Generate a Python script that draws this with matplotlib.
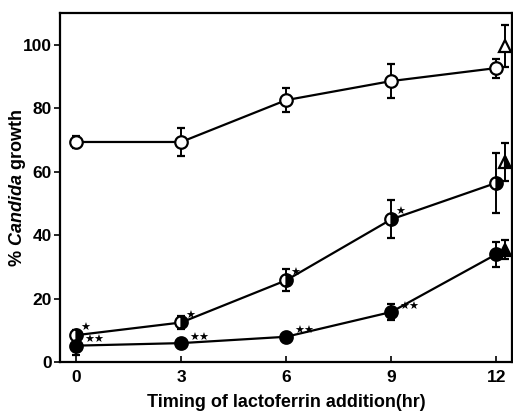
import matplotlib
matplotlib.use("Agg")
import matplotlib.pyplot as plt

plt.rcParams["font.family"] = ["Liberation Sans", "DejaVu Sans"]
plt.rcParams["font.weight"] = "bold"
plt.rcParams["mathtext.fontset"] = "custom"
plt.rcParams["mathtext.it"] = "Liberation Sans:italic:bold"

# timing of lactoferrin addition (hr)
hours = [0, 3, 6, 9, 12]

# open circles (top series)
top_vals = [69.4, 69.4, 82.6, 88.6, 92.7]
top_err = [2.0, 4.3, 3.7, 5.3, 3.0]

# half filled circles (middle series)
mid_vals = [8.5, 12.5, 25.8, 45.0, 56.5]
mid_err = [1.5, 2.0, 3.5, 6.0, 9.5]

# filled circles (bottom series)
low_vals = [5.2, 6.0, 8.0, 15.8, 34.0]
low_err = [3.0, 1.2, 0.8, 2.5, 4.0]

# controls (triangles) plotted just right of 12 hr
tri_x = 12.25
tri_vals = [99.7, 63.0, 35.4]
tri_err = [6.6, 6.0, 3.0]
tri_fill = ["none", "right", "full"]

stars_mid = ["★", "★", "★", "★"]
stars_low = ["★★", "★★", "★★", "★★"]

fig = plt.figure(figsize=(5.13, 4.12), dpi=100)
ax = fig.add_axes([0.117, 0.121, 0.881, 0.847])

kw = dict(color="black", lw=1.6, capsize=3, elinewidth=1.4, capthick=1.4,
          markersize=9, markeredgewidth=1.6, markeredgecolor="black")

ax.errorbar(hours, top_vals, yerr=top_err, marker="o", markerfacecolor="white", **kw)
ax.errorbar(hours, mid_vals, yerr=mid_err, marker="o", fillstyle="right",
            markerfacecoloralt="white", markerfacecolor="black", **kw)
ax.errorbar(hours, low_vals, yerr=low_err, marker="o", markerfacecolor="black", **kw)

for v, e, f in zip(tri_vals, tri_err, tri_fill):
    if f == "none":
        ax.errorbar([tri_x], [v], yerr=[e], marker="^", markerfacecolor="white", **kw)
    elif f == "right":
        ax.errorbar([tri_x], [v], yerr=[e], marker="^", fillstyle="right",
                    markerfacecolor="black", markerfacecoloralt="white", **kw)
    else:
        ax.errorbar([tri_x], [v], yerr=[e], marker="^", markerfacecolor="black", **kw)

for x, y, s in zip(hours[:4], mid_vals[:4], stars_mid):
    ax.annotate(s, (x, y), xytext=(3, 5), textcoords="offset points",
                fontsize=8, family="DejaVu Sans", va="center")
for x, y, s in zip(hours[:4], low_vals[:4], stars_low):
    ax.annotate(s, (x, y), xytext=(6, 4), textcoords="offset points",
                fontsize=8, family="DejaVu Sans", va="center")

ax.set_xlim(-0.46, 12.45)
ax.set_ylim(0, 110)
ax.set_xticks(hours)
ax.set_yticks([0, 20, 40, 60, 80, 100])
ax.tick_params(axis="x", direction="in", length=4, width=1.2, labelsize=12.5, pad=6)
ax.tick_params(axis="y", direction="out", length=4, width=1.2, labelsize=12.5, pad=2)
for sp in ax.spines.values():
    sp.set_linewidth(1.6)

ax.set_xlabel("Timing of lactoferrin addition(hr)", fontsize=13, fontweight="bold",
              va="center")
ax.xaxis.set_label_coords(0.5, -0.115)
ax.set_ylabel("% $\\mathit{Candida}$ growth", fontsize=13, fontweight="bold",
              va="center")
ax.yaxis.set_label_coords(-0.093, 0.5)

fig.savefig("out.png", dpi=100)
